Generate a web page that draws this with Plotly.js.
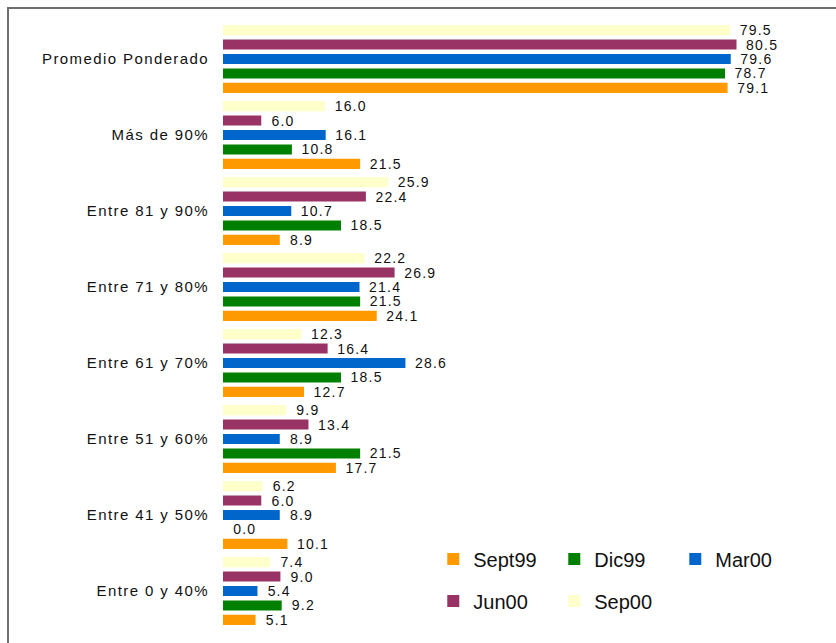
<!DOCTYPE html>
<html>
<head>
<meta charset="utf-8">
<script src="https://cdn.plot.ly/plotly-3.0.1.min.js"></script>
<style>
  html, body { margin: 0; padding: 0; background: #fff; }
  #frame { position: absolute; left: 7px; top: 7px; width: 840px; height: 650px;
           border-left: 2px solid #6e6e6e; border-top: 2px solid #6e6e6e; z-index: 0; }
  #chart { position: absolute; left: 0; top: 0; width: 836px; height: 643px; z-index: 1; }
  #chart .ytick text { letter-spacing: 1.4px; }
  #chart .bartext, #chart .textpoint text { letter-spacing: 1.2px; }
</style>
</head>
<body>
<div id="frame"></div>
<div id="chart"></div>
<script>
// Categories, listed top to bottom as in the picture
const categories = ["Promedio Ponderado", "Más de 90%", "Entre 81 y 90%", "Entre 71 y 80%",
                    "Entre 61 y 70%", "Entre 51 y 60%", "Entre 41 y 50%", "Entre 0 y 40%"];
const seriesNames = ["Sept99", "Dic99", "Mar00", "Jun00", "Sep00"];
const sept99 = [79.1, 21.5, 8.9, 24.1, 12.7, 17.7, 10.1, 5.1];
const dic99  = [78.7, 10.8, 18.5, 21.5, 18.5, 21.5, 0.0, 9.2];
const mar00  = [79.6, 16.1, 10.7, 21.4, 28.6, 8.9, 8.9, 5.4];
const jun00  = [80.5, 6.0, 22.4, 26.9, 16.4, 13.4, 6.0, 9.0];
const sep00  = [79.5, 16.0, 25.9, 22.2, 12.3, 9.9, 6.2, 7.4];

const seriesValues = [sept99, dic99, mar00, jun00, sep00];
const colors = ["#FF9900", "#008000", "#0066CC", "#993366", "#FFFFCC"];
const legendOf = ["legend", "legend", "legend", "legend2", "legend2"];

const traces = seriesValues.map((vals, i) => ({
  type: "bar",
  orientation: "h",
  name: seriesNames[i],
  y: categories,
  x: vals,
  marker: { color: colors[i], line: { width: 0 } },
  text: vals.map(v => v.toFixed(1)),
  texttemplate: "\u00a0\u00a0%{text}",
  textposition: "outside",
  cliponaxis: false,
  constraintext: "none",
  textfont: { family: "Liberation Sans, Arial, sans-serif", size: 14, color: "#111" },
  legend: legendOf[i],
  hoverinfo: "skip"
}));

const legendStyle = {
  orientation: "h",
  font: { family: "Liberation Sans, Arial, sans-serif", size: 20, color: "#111" },
  bgcolor: "rgba(0,0,0,0)",
  entrywidth: 76,
  entrywidthmode: "pixels",
  xanchor: "left",
  yanchor: "middle",
  traceorder: "normal"
};

const layout = {
  width: 836,
  height: 643,
  margin: { l: 223, r: 7, t: 21, b: 14 },
  paper_bgcolor: "rgba(0,0,0,0)",
  plot_bgcolor: "rgba(0,0,0,0)",
  barmode: "group",
  bargap: 0.05,
  bargroupgap: 0.3,
  showlegend: true,
  xaxis: { range: [0, 95], visible: false, fixedrange: true },
  yaxis: {
    type: "category",
    categoryorder: "array",
    categoryarray: categories.slice().reverse(),
    showline: false, showgrid: false, zeroline: false,
    ticks: "",
    ticklabelstandoff: 13,
    tickfont: { family: "Liberation Sans, Arial, sans-serif", size: 15, color: "#111" },
    fixedrange: true
  },
  legend: Object.assign({}, legendStyle, { x: 0.347, y: 0.115 }),
  legend2: Object.assign({}, legendStyle, { x: 0.347, y: 0.046 })
};

Plotly.newPlot("chart", traces, layout, { displayModeBar: false, staticPlot: true });
</script>
</body>
</html>
